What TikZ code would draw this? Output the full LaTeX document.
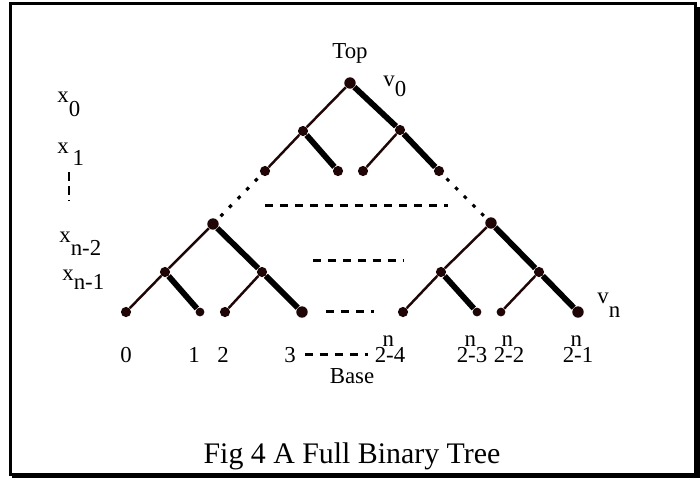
\documentclass[tikz,border=0pt]{standalone}
\usepackage{fontspec}
\setmainfont{Liberation Serif}

\definecolor{treeink}{rgb}{0.12,0.02,0.02}

% level labels with a low index, and the 2^n-k leaf numbers
\newcommand{\lowidx}[3]{#1\raisebox{-#3}{#2}}
\newcommand{\twopow}[1]{2\rlap{\kern-2pt\raisebox{9pt}{n}}-#1}

\begin{document}
\begin{tikzpicture}[x=0.02cm,y=-0.02cm,
    dot/.style={circle, fill=treeink, inner sep=0pt, minimum size=5.8pt},
    thinedge/.style={draw=treeink, line width=1.4pt},
    thickedge/.style={draw=black, line width=3.3pt},
    dotline/.style={draw=black, line width=1.8pt, dash pattern=on 2pt off 5pt, shorten <=3pt},
    gapline/.style={draw=black, line width=1.7pt, dash pattern=on 4.5pt off 4pt},
    lab/.style={font=\fontsize{13}{15}\selectfont, inner sep=0pt, anchor=base}]
  \useasboundingbox (0,0) rectangle (700,478);

  % frame with its shadow on the right and bottom
  \draw[line width=1.7pt] (10.5,3.5) rectangle (695,474);
  \fill (695,7) rectangle (700,478);
  \fill (12,474) rectangle (700,478);

  % top of the tree
  \node[dot, minimum size=6.5pt] (r) at (350,83) {};
  \node[dot] (a) at (303,131) {};
  \node[dot] (b) at (400,130) {};
  \node[dot] (aa) at (265,171) {};
  \node[dot] (ab) at (338,171) {};
  \node[dot] (ba) at (363,171) {};
  \node[dot] (bb) at (439,171) {};

  % lower left subtree
  \node[dot, minimum size=6.5pt] (L) at (213,224) {};
  \node[dot] (La) at (165,272) {};
  \node[dot] (Lb) at (262,272) {};
  \node[dot] (l0) at (126,312) {};
  \node[dot, minimum size=5pt] (l1) at (200,312) {};
  \node[dot] (l2) at (225,312) {};
  \node[dot, minimum size=6.5pt] (l3) at (302,312) {};

  % lower right subtree
  \node[dot, minimum size=6.5pt] (R) at (491,223) {};
  \node[dot] (Ra) at (441,272) {};
  \node[dot] (Rb) at (539,272) {};
  \node[dot] (r0) at (403,312) {};
  \node[dot, minimum size=5pt] (r1) at (477,312) {};
  \node[dot, minimum size=5pt] (r2) at (501,312) {};
  \node[dot, minimum size=6.5pt] (r3) at (578,312) {};

  \draw[thinedge] (r) -- (a);
  \draw[thickedge] (r) -- (b);
  \draw[thinedge] (a) -- (aa);
  \draw[thickedge] (a) -- (ab);
  \draw[thinedge] (b) -- (ba);
  \draw[thickedge] (b) -- (bb);

  \draw[thinedge] (L) -- (La);
  \draw[thickedge] (L) -- (Lb);
  \draw[thinedge] (La) -- (l0);
  \draw[thickedge] (La) -- (l1);
  \draw[thinedge] (Lb) -- (l2);
  \draw[thickedge] (Lb) -- (l3);

  \draw[thinedge] (R) -- (Ra);
  \draw[thickedge] (R) -- (Rb);
  \draw[thinedge] (Ra) -- (r0);
  \draw[thickedge] (Ra) -- (r1);
  \draw[thinedge] (Rb) -- (r2);
  \draw[thickedge] (Rb) -- (r3);

  % the levels that are left out
  \draw[dotline] (aa) -- (L);
  \draw[dotline] (bb) -- (R);
  \coordinate (g1a) at (265,205);
  \coordinate (g1b) at (448,205);
  \coordinate (g2a) at (313,260);
  \coordinate (g2b) at (404,260);
  \coordinate (g3a) at (326,311);
  \coordinate (g3b) at (374,311);
  \coordinate (g4a) at (305,354);
  \coordinate (g4b) at (368,354);
  \coordinate (gva) at (69,172);
  \coordinate (gvb) at (69,201);
  \draw[gapline] (g1a) -- (g1b);
  \draw[gapline] (g2a) -- (g2b);
  \draw[gapline] (g3a) -- (g3b);
  \draw[gapline] (g4a) -- (g4b);
  \draw[gapline, dash pattern=on 5pt off 3pt] (gva) -- (gvb);

  % labels
  \node[lab] (top) at (350,58) {Top};
  \node[lab] (base) at (352,383) {Base};
  \node[lab, anchor=base west] (v0) at (383,86) {\lowidx{v}{0}{6pt}};
  \node[lab, anchor=base west] (vn) at (597,303) {\lowidx{v}{n}{8pt}};
  \node[lab, anchor=base west] (x0) at (57,102) {\lowidx{x}{0}{8pt}};
  \node[lab, anchor=base west] (x1) at (57,153) {\lowidx{x}{\,1}{7pt}};
  \node[lab, anchor=base west] (x2) at (59,242) {\lowidx{x}{n-2}{7.5pt}};
  \node[lab, anchor=base west] (x3) at (62,280) {\lowidx{x}{n-1}{5.5pt}};

  \node[lab] (n0) at (126,362) {0};
  \node[lab] (n1) at (194,362) {1};
  \node[lab] (n2) at (223,362) {2};
  \node[lab] (n3) at (290,362) {3};
  \node[lab] (n4) at (390,362) {\twopow{4}};
  \node[lab] (n5) at (472,362) {\twopow{3}};
  \node[lab] (n6) at (509,362) {\twopow{2}};
  \node[lab] (n7) at (578,362) {\twopow{1}};

  \node[anchor=base, inner sep=0pt, font=\fontsize{17}{20}\selectfont] (cap) at (352,463) {Fig 4 A Full Binary Tree};
\end{tikzpicture}
\end{document}
